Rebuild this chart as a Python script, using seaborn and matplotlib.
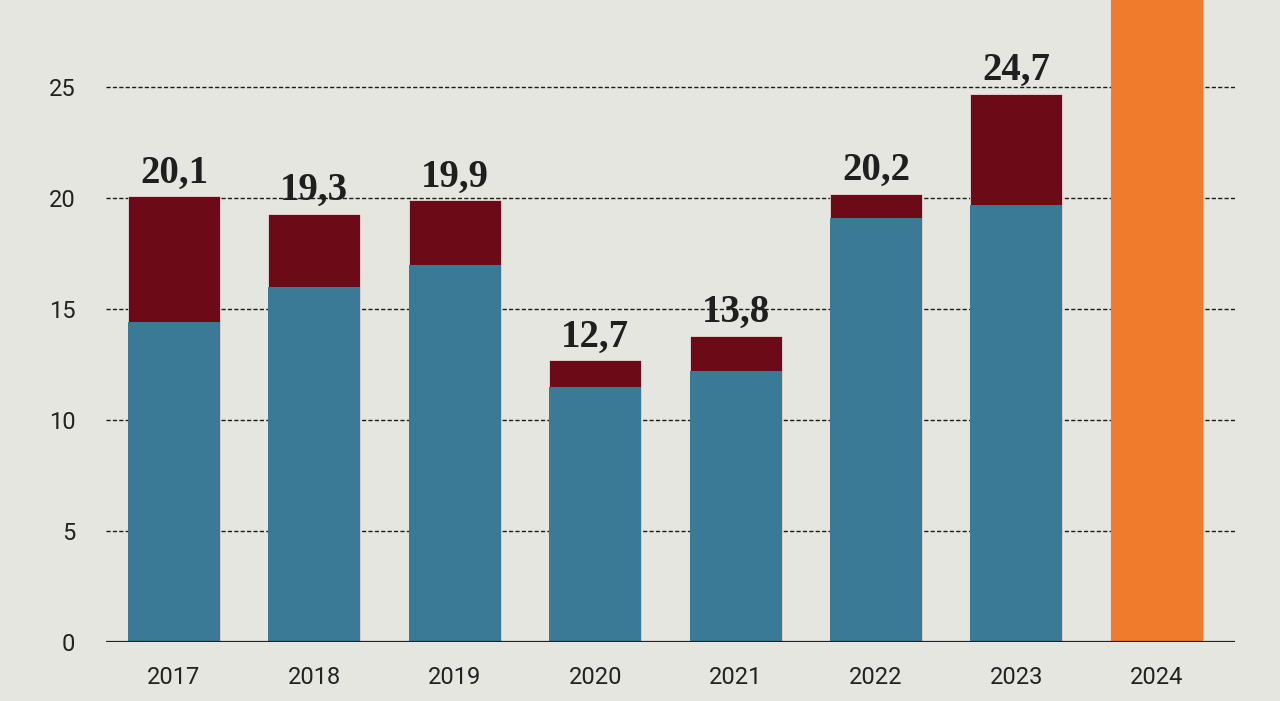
import matplotlib
matplotlib.use('Agg')
import matplotlib.pyplot as plt
import pandas as pd
import seaborn as sns

# values
years = ['2017', '2018', '2019', '2020', '2021', '2022', '2023', '2024']
totals = [20.1, 19.3, 19.9, 12.7, 13.8, 20.2, 24.7, 30.0]
lower = [14.4, 16.0, 17.0, 11.5, 12.2, 19.1, 19.7, 30.0]
labels = ['20,1', '19,3', '19,9', '12,7', '13,8', '20,2', '24,7', '']
y_ticks = [0, 5, 10, 15, 20, 25]

bg = '#e6e6e1'
blue = '#3b7a96'
red = '#6c0b17'
orange = '#f07b2c'

df = pd.DataFrame({'year': years, 'total': totals, 'lower': lower, 'label': labels})

sns.set_style('white')
plt.rcParams['font.family'] = ['Roboto', 'DejaVu Sans']

fig = plt.figure(figsize=(12.8, 7.01), dpi=100, facecolor=bg)
ax = fig.add_axes([0.0828, 0.0842, 0.8820, 0.9158])
ax.set_facecolor(bg)

# dashed gridlines behind the bars
for t in y_ticks[1:]:
    ax.axhline(t, color='#1a1a1a', lw=1.0, ls=(0, (3, 1.6)), zorder=0)

# total (dark red) then the lower segment (blue) over it
top_colors = [red] * 7 + [orange]
low_colors = [blue] * 7 + [orange]
sns.barplot(data=df, x='year', y='total', hue='year', palette=top_colors,
            legend=False, width=0.655, edgecolor='#f3ece8', linewidth=0.5,
            saturation=1, ax=ax, zorder=2)
sns.barplot(data=df, x='year', y='lower', hue='year', palette=low_colors,
            legend=False, width=0.655, linewidth=0,
            saturation=1, ax=ax, zorder=3)

for i, row in df.iterrows():
    if row['label']:
        ax.text(i, row['total'] + 0.2, row['label'], ha='center', va='bottom',
                fontsize=28, fontweight='bold', family='Liberation Serif',
                color='#1f1f1f', zorder=4)

ax.axhline(0, color='#222222', lw=1.6, zorder=5)

ax.set_ylim(0, 28.92)
ax.set_xlim(-0.484, 7.556)
ax.set_yticks(y_ticks)
ax.set_yticklabels([str(t) for t in y_ticks])
ax.tick_params(axis='y', length=0, pad=22, labelsize=17, labelcolor='#222222')
ax.tick_params(axis='x', length=0, pad=17, labelsize=17, labelcolor='#222222')
ax.set_xlabel('')
ax.set_ylabel('')
for s in ax.spines.values():
    s.set_visible(False)

fig.savefig('out.png', dpi=100, facecolor=bg)
